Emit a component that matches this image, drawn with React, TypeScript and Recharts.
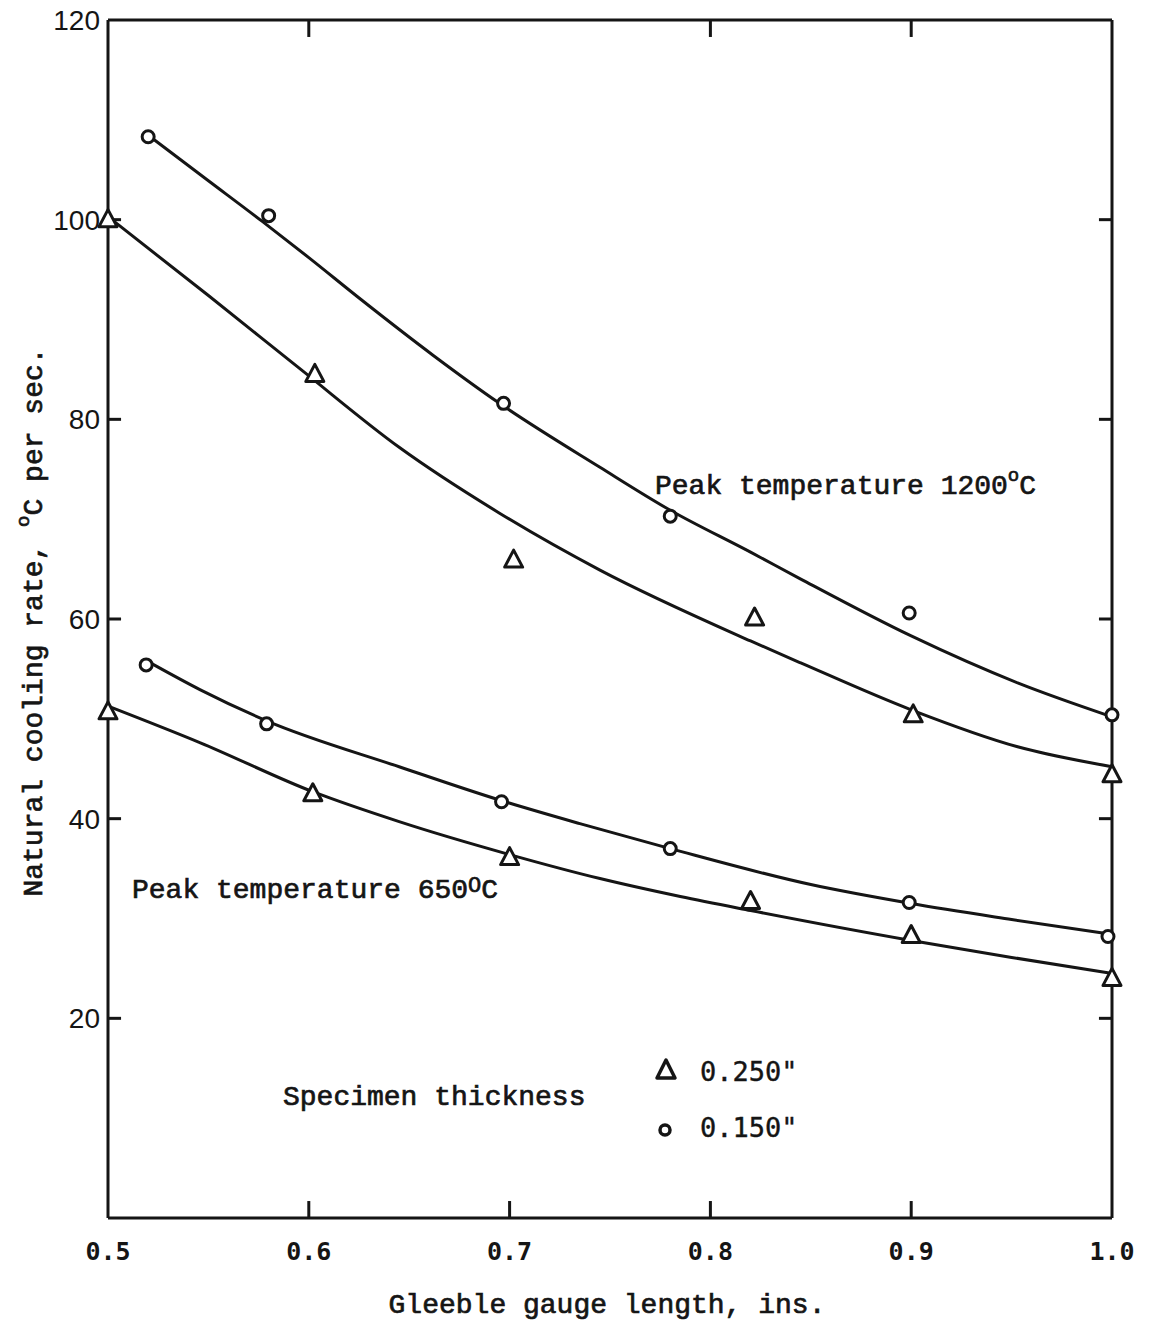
import React from 'react';
import { ComposedChart, Line, Scatter, XAxis, YAxis, ReferenceLine, Customized } from 'recharts';

// axis ticks
const gaugeTicks = [0.5, 0.6, 0.7, 0.8, 0.9, 1.0];
const innerGaugeTicks = [0.6, 0.7, 0.8, 0.9];
const topTicks = [0.6, 0.8, 0.9];
const rateTicks = [20, 40, 60, 80, 100, 120];
const innerRateTicks = [20, 40, 60, 80, 100];

// measured points, peak 1200C
const circle1200X = [0.52, 0.58, 0.697, 0.78, 0.899, 1.0];
const circle1200Y = [108.3, 100.4, 81.6, 70.3, 60.6, 50.4];
const tri1200X = [0.5, 0.603, 0.702, 0.822, 0.901, 1.0];
const tri1200Y = [100.0, 84.5, 65.9, 60.1, 50.4, 44.4];

// measured points, peak 650C
const circle650X = [0.519, 0.579, 0.696, 0.78, 0.899, 0.998];
const circle650Y = [55.4, 49.5, 41.7, 37.0, 31.6, 28.2];
const tri650X = [0.5, 0.602, 0.7, 0.82, 0.9, 1.0];
const tri650Y = [50.7, 42.5, 36.1, 31.7, 28.3, 24.0];

// hand-drawn fitted curves
const fit1200ThinX = [0.523, 0.55, 0.577, 0.6, 0.626, 0.662, 0.695, 0.745, 0.78, 0.82, 0.845, 0.9, 0.953, 1.0];
const fit1200ThinY = [108.0, 103.9, 99.8, 96.2, 92.0, 86.4, 81.6, 75.2, 70.9, 66.7, 64.0, 58.3, 53.6, 50.2];
const fit1200ThickX = [0.5, 0.55, 0.596, 0.645, 0.695, 0.745, 0.82, 0.845, 0.9, 0.953, 1.0];
const fit1200ThickY = [100.3, 92.4, 85.0, 77.2, 70.6, 64.9, 57.8, 55.6, 50.9, 47.2, 45.2];
const fit650ThinX = [0.522, 0.546, 0.579, 0.645, 0.696, 0.735, 0.78, 0.85, 0.9, 0.95, 1.0];
const fit650ThinY = [55.5, 52.9, 49.8, 45.2, 41.8, 39.5, 37.0, 33.4, 31.5, 29.9, 28.4];
const fit650ThickX = [0.501, 0.546, 0.602, 0.645, 0.7, 0.745, 0.785, 0.82, 0.9, 0.95, 1.0];
const fit650ThickY = [51.2, 47.6, 42.7, 39.7, 36.4, 34.0, 32.2, 30.8, 27.8, 26.1, 24.5];

const toPoints = (xs: number[], ys: number[]) => xs.map((x, i) => ({ x, y: ys[i] }));

const INK = '#151515';
const MONO = '"Liberation Mono", "Courier New", monospace';
const SANS_MONO = '"DejaVu Sans Mono", monospace';

// inward tick lengths, in axis units (~13px horizontally, ~17px vertically)
const X_MIN = 0.5;
const X_MAX = 1.0;
const Y_MIN = 0;
const Y_MAX = 120;
const SIDE_TICK = 0.0065;
const VERT_TICK = 1.7;

const TriangleMark = (props: any) => {
    const { cx, cy } = props;
    if (cx == null || cy == null) return null;
    return (
        <path
            d={`M${cx},${cy - 10} L${cx + 9},${cy + 7} L${cx - 9},${cy + 7} Z`}
            fill="#fff"
            stroke={INK}
            strokeWidth={3}
            strokeLinejoin="round"
        />
    );
};

const CircleMark = (props: any) => {
    const { cx, cy } = props;
    if (cx == null || cy == null) return null;
    return <circle cx={cx} cy={cy} r={6} fill="#fff" stroke={INK} strokeWidth={3} />;
};

const Annotations = () => (
    <g fill={INK} fontFamily={MONO} fontSize={28} stroke={INK} strokeWidth={0.7}>
        <text x={655} y={494}>
            <tspan>Peak temperature 1200</tspan>
            <tspan dy={-13} fontSize={19}>o</tspan>
            <tspan dy={13}>C</tspan>
        </text>
        <text x={132} y={898}>
            <tspan>Peak temperature 650</tspan>
            <tspan dy={-6} fontSize={22}>O</tspan>
            <tspan dy={6}>C</tspan>
        </text>
        <text x={283} y={1105}>Specimen thickness</text>

        <path d="M666,1060 L675,1078 L657,1078 Z" fill="#fff" strokeWidth={3.5} strokeLinejoin="round" />
        <text x={700} y={1081} fontFamily={SANS_MONO} fontSize={27} strokeWidth={0.4}>0.250"</text>
        <circle cx={665} cy={1130} r={5} fill="#fff" strokeWidth={3.5} />
        <text x={700} y={1137} fontFamily={SANS_MONO} fontSize={27} strokeWidth={0.4}>0.150"</text>

        <text x={607} y={1313} textAnchor="middle">Gleeble gauge length, ins.</text>
        <text transform="translate(42, 622) rotate(-90)" textAnchor="middle">
            <tspan>Natural cooling rate, </tspan>
            <tspan dy={-13} fontSize={19}>o</tspan>
            <tspan dy={13}>C per sec.</tspan>
        </text>
    </g>
);

const axisStroke = { stroke: INK, strokeWidth: 3 };
const tickStroke = { stroke: INK, strokeWidth: 3, ifOverflow: 'visible' as const };

const App: React.FC = () => {
    return (
        <div style={{ position: 'absolute', left: 0, top: 0, width: 1152, height: 1326, background: '#fff' }}>
            <ComposedChart width={1152} height={1326} margin={{ top: 20, right: 40, bottom: 48, left: 28 }}>
                <XAxis
                    dataKey="x"
                    type="number"
                    domain={[X_MIN, X_MAX]}
                    ticks={gaugeTicks}
                    interval={0}
                    height={60}
                    axisLine={axisStroke}
                    tickLine={false}
                    tickSize={0}
                    tickMargin={24}
                    tickFormatter={(v: number) => v.toFixed(1)}
                    tick={{ fill: INK, fontSize: 25, fontFamily: SANS_MONO, fontWeight: 'bold' }}
                />
                <YAxis
                    type="number"
                    domain={[Y_MIN, Y_MAX]}
                    ticks={rateTicks}
                    interval={0}
                    width={80}
                    axisLine={axisStroke}
                    tickLine={false}
                    tickSize={0}
                    tickMargin={8}
                    tick={{ fill: INK, fontSize: 28, fontFamily: '"Liberation Sans", Arial, sans-serif' }}
                />

                {/* frame: top and right edges */}
                <ReferenceLine segment={[{ x: X_MIN, y: Y_MAX }, { x: X_MAX, y: Y_MAX }]} {...tickStroke} />
                <ReferenceLine segment={[{ x: X_MAX, y: Y_MIN }, { x: X_MAX, y: Y_MAX }]} {...tickStroke} />

                {/* inward tick marks */}
                {innerRateTicks.map((v) => (
                    <ReferenceLine key={`l${v}`} segment={[{ x: X_MIN, y: v }, { x: X_MIN + SIDE_TICK, y: v }]} {...tickStroke} />
                ))}
                {innerRateTicks.map((v) => (
                    <ReferenceLine key={`r${v}`} segment={[{ x: X_MAX - SIDE_TICK, y: v }, { x: X_MAX, y: v }]} {...tickStroke} />
                ))}
                {innerGaugeTicks.map((v) => (
                    <ReferenceLine key={`b${v}`} segment={[{ x: v, y: Y_MIN }, { x: v, y: Y_MIN + VERT_TICK }]} {...tickStroke} />
                ))}
                {topTicks.map((v) => (
                    <ReferenceLine key={`t${v}`} segment={[{ x: v, y: Y_MAX - VERT_TICK }, { x: v, y: Y_MAX }]} {...tickStroke} />
                ))}

                <Line data={toPoints(fit1200ThinX, fit1200ThinY)} dataKey="y" type="monotone" stroke={INK} strokeWidth={3} dot={false} activeDot={false} isAnimationActive={false} />
                <Line data={toPoints(fit1200ThickX, fit1200ThickY)} dataKey="y" type="monotone" stroke={INK} strokeWidth={3} dot={false} activeDot={false} isAnimationActive={false} />
                <Line data={toPoints(fit650ThinX, fit650ThinY)} dataKey="y" type="monotone" stroke={INK} strokeWidth={3} dot={false} activeDot={false} isAnimationActive={false} />
                <Line data={toPoints(fit650ThickX, fit650ThickY)} dataKey="y" type="monotone" stroke={INK} strokeWidth={3} dot={false} activeDot={false} isAnimationActive={false} />

                <Scatter data={toPoints(circle1200X, circle1200Y)} dataKey="y" shape={CircleMark} isAnimationActive={false} />
                <Scatter data={toPoints(tri1200X, tri1200Y)} dataKey="y" shape={TriangleMark} isAnimationActive={false} />
                <Scatter data={toPoints(circle650X, circle650Y)} dataKey="y" shape={CircleMark} isAnimationActive={false} />
                <Scatter data={toPoints(tri650X, tri650Y)} dataKey="y" shape={TriangleMark} isAnimationActive={false} />

                <Customized component={Annotations} />
            </ComposedChart>
        </div>
    );
};

export default App;
